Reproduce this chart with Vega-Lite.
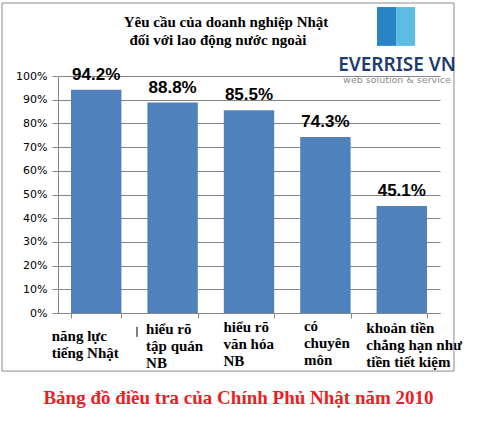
{
  "$schema": "https://vega.github.io/schema/vega-lite/v6.json",
  "width": 382,
  "height": 237,
  "autosize": {"type": "none"},
  "padding": {"left": 58, "top": 76, "right": 44, "bottom": 120},
  "background": "white",
  "config": {"view": {"stroke": null}},
  "data": {
    "values": [
      {"cat": "năng lực\ntiếng Nhật", "v": 0.942},
      {"cat": "hiểu rõ\ntập quán\nNB", "v": 0.888},
      {"cat": "hiểu rõ\nvăn hóa\nNB", "v": 0.855},
      {"cat": "có\nchuyên\nmôn", "v": 0.743},
      {"cat": "khoản tiền\nchẳng hạn như\ntiền tiết kiệm", "v": 0.451}
    ]
  },
  "resolve": {"scale": {"x": "independent", "y": "independent"}, "axis": {"x": "independent", "y": "independent"}},
  "layer": [
    {
      "mark": {"type": "bar", "color": "#4f81bd"},
      "encoding": {
        "x": {
          "field": "cat", "type": "nominal", "sort": null,
          "scale": {"paddingInner": 0.34, "paddingOuter": 0.17},
          "axis": {
            "title": "Bảng đồ điều tra của Chính Phủ Nhật năm 2010",
            "titleFont": "Liberation Serif",
            "titleFontWeight": "bold",
            "titleFontSize": 19,
            "titleColor": "#ee1c24",
            "titleX": 180,
            "titleY": 84,
            "titleBaseline": "middle",
            "labelExpr": "split(datum.label, '\\n')",
            "labelFont": "Liberation Serif",
            "labelFontWeight": "bold",
            "labelFontSize": 15,
            "labelColor": "#000000",
            "labelLineHeight": 17,
            "labelAngle": 0,
            "labelAlign": "left",
            "labelBaseline": "middle",
            "labelOffset": {"condition": [{"test": "datum.index < 0.1", "value": -45}, {"test": "datum.index > 0.9", "value": -36}, {"test": "datum.index < 0.3", "value": -27}, {"test": "datum.index < 0.6", "value": -26}], "value": -22},
            "labelPadding": {"condition": [{"test": "datum.index < 0.1", "value": 17}, {"test": "datum.index > 0.9", "value": 9}, {"test": "datum.index < 0.3", "value": 10}, {"test": "datum.index < 0.6", "value": 8}], "value": 7},
            "labelOverlap": false,
            "labelLimit": 300,
            "tickBand": "extent",
            "tickSize": 5,
            "tickColor": "#868686",
            "domainColor": "#868686"
          }
        },
        "y": {
          "field": "v", "type": "quantitative",
          "scale": {"domain": [0, 1], "nice": false},
          "axis": {
            "title": null,
            "values": [0, 0.1, 0.2, 0.3, 0.4, 0.5, 0.6, 0.7, 0.8, 0.9, 1],
            "format": ".0%",
            "labelFont": "DejaVu Sans",
            "labelFontSize": 11,
            "labelColor": "#000000",
            "labelPadding": 5,
            "tickSize": 6,
            "tickColor": "#868686",
            "domainColor": "#868686",
            "gridColor": "#868686",
            "grid": true
          }
        }
      }
    },
    {
      "mark": {"type": "text", "font": "Liberation Sans", "fontWeight": "bold", "fontSize": 17, "color": "#000000", "baseline": "alphabetic", "dy": -10},
      "encoding": {
        "x": {"field": "cat", "type": "nominal", "sort": null, "scale": {"paddingInner": 0.34, "paddingOuter": 0.17}, "axis": null},
        "y": {"field": "v", "type": "quantitative", "scale": {"domain": [0, 1], "nice": false}, "axis": null},
        "text": {"field": "v", "type": "quantitative", "format": ".1%"}
      }
    },
    {
      "data": {"values": [{"k": "border"}]},
      "mark": {"type": "rect", "fill": null, "stroke": "#8a8a8a", "strokeWidth": 1},
      "encoding": {
        "x": {"datum": -0.1466, "type": "quantitative", "scale": {"domain": [0, 1], "nice": false, "zero": false}, "axis": null},
        "x2": {"datum": 1.0366},
        "y": {"datum": 1.308, "type": "quantitative", "scale": {"domain": [0, 1], "nice": false, "zero": false}, "axis": null},
        "y2": {"datum": -0.245}
      }
    },
    {
      "data": {"values": [{"t": "Yêu cầu của doanh nghiệp Nhật"}]},
      "mark": {"type": "text", "font": "Liberation Serif", "fontWeight": "bold", "fontSize": 15, "color": "#000000", "align": "center", "baseline": "alphabetic"},
      "encoding": {
        "x": {"datum": 0.4398, "type": "quantitative", "scale": {"domain": [0, 1], "nice": false, "zero": false}, "axis": null},
        "y": {"datum": 1.2068, "type": "quantitative", "scale": {"domain": [0, 1], "nice": false, "zero": false}, "axis": null},
        "text": {"field": "t"}
      }
    },
    {
      "data": {"values": [{"t": "đối với lao động nước ngoài"}]},
      "mark": {"type": "text", "font": "Liberation Serif", "fontWeight": "bold", "fontSize": 15, "color": "#000000", "align": "center", "baseline": "alphabetic"},
      "encoding": {
        "x": {"datum": 0.4188, "type": "quantitative", "scale": {"domain": [0, 1], "nice": false, "zero": false}, "axis": null},
        "y": {"datum": 1.1308, "type": "quantitative", "scale": {"domain": [0, 1], "nice": false, "zero": false}, "axis": null},
        "text": {"field": "t"}
      }
    },
    {
      "data": {"values": [{"k": "icon-left"}]},
      "mark": {"type": "rect", "fill": "#2a83c4"},
      "encoding": {
        "x": {"datum": 0.835, "type": "quantitative", "scale": {"domain": [0, 1], "nice": false, "zero": false}, "axis": null},
        "x2": {"datum": 0.885},
        "y": {"datum": 1.291, "type": "quantitative", "scale": {"domain": [0, 1], "nice": false, "zero": false}, "axis": null},
        "y2": {"datum": 1.127}
      }
    },
    {
      "data": {"values": [{"k": "icon-right"}]},
      "mark": {"type": "rect", "fill": "#5bbde3"},
      "encoding": {
        "x": {"datum": 0.885, "type": "quantitative", "scale": {"domain": [0, 1], "nice": false, "zero": false}, "axis": null},
        "x2": {"datum": 0.935},
        "y": {"datum": 1.291, "type": "quantitative", "scale": {"domain": [0, 1], "nice": false, "zero": false}, "axis": null},
        "y2": {"datum": 1.127}
      }
    },
    {
      "data": {"values": [{"t": "EVERRISE VN"}]},
      "mark": {"type": "text", "font": "Noto Sans", "fontWeight": 600, "fontSize": 19, "color": "#1d3c70", "align": "center", "baseline": "alphabetic"},
      "encoding": {
        "x": {"datum": 0.8874, "type": "quantitative", "scale": {"domain": [0, 1], "nice": false, "zero": false}, "axis": null},
        "y": {"datum": 1.0211, "type": "quantitative", "scale": {"domain": [0, 1], "nice": false, "zero": false}, "axis": null},
        "text": {"field": "t"}
      }
    },
    {
      "data": {"values": [{"t": "web solution & service"}]},
      "mark": {"type": "text", "font": "DejaVu Sans", "fontSize": 9.5, "color": "#8c8c8c", "align": "center", "baseline": "alphabetic"},
      "encoding": {
        "x": {"datum": 0.8874, "type": "quantitative", "scale": {"domain": [0, 1], "nice": false, "zero": false}, "axis": null},
        "y": {"datum": 0.9684, "type": "quantitative", "scale": {"domain": [0, 1], "nice": false, "zero": false}, "axis": null},
        "text": {"field": "t"}
      }
    },
    {
      "data": {"values": [{"k": "stray"}]},
      "mark": {"type": "rule", "color": "#000000", "strokeWidth": 1},
      "encoding": {
        "x": {"datum": 0.2068, "type": "quantitative", "scale": {"domain": [0, 1], "nice": false, "zero": false}, "axis": null},
        "y": {"datum": -0.059, "type": "quantitative", "scale": {"domain": [0, 1], "nice": false, "zero": false}, "axis": null},
        "y2": {"datum": -0.101}
      }
    }
  ]
}
